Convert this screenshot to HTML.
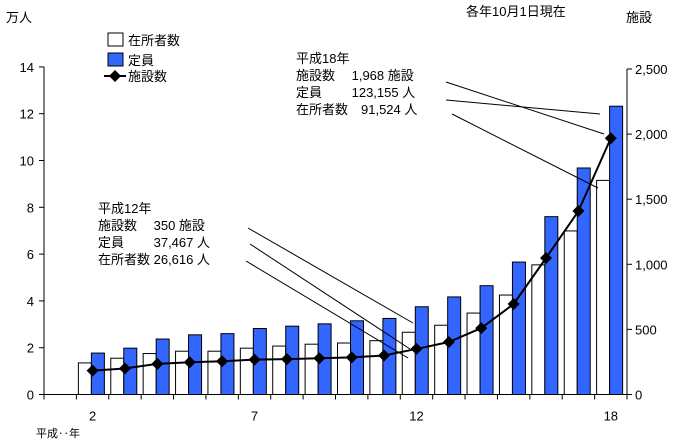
<!DOCTYPE html>
<html><head><meta charset="utf-8"><style>
body{margin:0;background:#fff}
svg text{font-family:"Liberation Sans","Noto Sans CJK JP",sans-serif;font-size:13px;fill:#000}
</style></head><body>
<svg id="c" width="683" height="442" xmlns="http://www.w3.org/2000/svg"></svg>
<script>
const categories=["1","2","3","4","5","6","7","8","9","10","11","12","13","14","15","16","17","18"];
const shownLabels=["2","7","12","18"];
const residents=[null,1.35,1.55,1.75,1.85,1.85,1.98,2.07,2.15,2.2,2.3,2.66,2.96,3.48,4.25,5.54,6.99,9.15];
const capacity=[null,1.77,1.98,2.37,2.55,2.6,2.82,2.92,3.02,3.15,3.25,3.75,4.17,4.65,5.66,7.6,9.68,12.32];
const facilities=[null,183,200,235,248,255,268,272,278,285,300,350,403,510,695,1048,1409,1968];
const leftTicks=[0,2,4,6,8,10,12,14];
const rightTicks=[0,500,1000,1500,2000,2500];
const rightTickLabels=["0","500","1,000","1,500","2,000","2,500"];
const NS="http://www.w3.org/2000/svg",svg=document.getElementById('c');
const X0=44,X1=627,Y0=394.5,bw=(X1-X0)/categories.length;
const yL=v=>Y0-v*23.4, yR=v=>Y0-v*0.1302, xB=i=>X0+i*bw;
function el(t,a,txt){const e=document.createElementNS(NS,t);for(const k in a)e.setAttribute(k,a[k]);if(txt!=null)e.textContent=txt;svg.appendChild(e);return e;}
categories.forEach((c,i)=>{
 if(residents[i]!=null){
  let r=el('rect',{x:xB(i)+2,y:yL(residents[i]),width:13,height:Y0-yL(residents[i]),fill:'#fff',stroke:'#000','stroke-width':1});
  
 }
 if(capacity[i]!=null){
  let r=el('rect',{x:xB(i)+15,y:yL(capacity[i]),width:13,height:Y0-yL(capacity[i]),fill:'#3366ff',stroke:'#000','stroke-width':1});
  
 }
});
let pts=[];categories.forEach((c,i)=>{if(facilities[i]!=null)pts.push([xB(i)+bw/2,yR(facilities[i])]);});
let ln=el('polyline',{points:pts.map(p=>p.join(',')).join(' '),fill:'none',stroke:'#000','stroke-width':2});

pts.forEach((p,k)=>{let d=el('path',{d:`M${p[0]-6},${p[1]}L${p[0]},${p[1]-6}L${p[0]+6},${p[1]}L${p[0]},${p[1]+6}Z`,fill:'#000'});
 });
// axes
el('line',{x1:X0,y1:Y0,x2:X1,y2:Y0,stroke:'#000'});
el('line',{x1:X0,y1:Y0,x2:X0,y2:yL(14),stroke:'#000'});
el('line',{x1:X1,y1:Y0,x2:X1,y2:yR(2500),stroke:'#000'});
for(let i=0;i<=categories.length;i++)el('line',{x1:xB(i),y1:Y0,x2:xB(i),y2:Y0+5,stroke:'#000'});
leftTicks.forEach(v=>{el('line',{x1:X0-5,y1:yL(v),x2:X0,y2:yL(v),stroke:'#000'});
 let t=el('text',{x:X0-10,y:yL(v)+5,'text-anchor':'end'},String(v));});
rightTicks.forEach((v,i)=>{el('line',{x1:X1,y1:yR(v),x2:X1+5,y2:yR(v),stroke:'#000'});
 let t=el('text',{x:X1+8,y:yR(v)+5},rightTickLabels[i]);});
categories.forEach((c,i)=>{if(shownLabels.includes(c)){let t=el('text',{x:xB(i)+bw/2,y:Y0+26,'text-anchor':'middle'},c);
 }});
</script>
<svg width="683" height="442" style="position:absolute;left:0;top:0" xmlns="http://www.w3.org/2000/svg">
<g>
<text x="6" y="22">万人</text>
<text x="626" y="22">施設</text>
<text x="466" y="16">各年10月1日現在</text>
<text x="36" y="437" style="font-size:11px">平成‥年</text>
</g>
<g>
<rect x="108" y="33" width="15" height="13" fill="#fff" stroke="#000"/><text x="128" y="45">在所者数</text>
<rect x="108" y="53" width="15" height="13" fill="#3366ff" stroke="#000"/><text x="128" y="65">定員</text>
<line x1="104" y1="76" x2="126" y2="76" stroke="#000" stroke-width="2"/><path d="M109,76L115,70L121,76L115,82Z"/><text x="128" y="81">施設数</text>
</g>
<g>
<text x="296" y="63">平成18年</text>
<text x="296" y="80">施設数　 1,968 施設</text>
<text x="296" y="97">定員　　 123,155 人</text>
<text x="296" y="114">在所者数　91,524 人</text>
<line x1="446" y1="82" x2="604" y2="134" stroke="#000"/>
<line x1="446" y1="100" x2="600" y2="114" stroke="#000"/>
<line x1="452" y1="114" x2="598" y2="188" stroke="#000"/>
</g>
<g>
<text x="98" y="213">平成12年</text>
<text x="98" y="230">施設数　 350 施設</text>
<text x="98" y="247">定員　　 37,467 人</text>
<text x="98" y="264">在所者数 26,616 人</text>
<line x1="248" y1="228" x2="413" y2="323" stroke="#000"/>
<line x1="250" y1="244" x2="410" y2="349" stroke="#000"/>
<line x1="246" y1="261" x2="408" y2="358" stroke="#000"/>
</g>
</svg>
</body></html>
